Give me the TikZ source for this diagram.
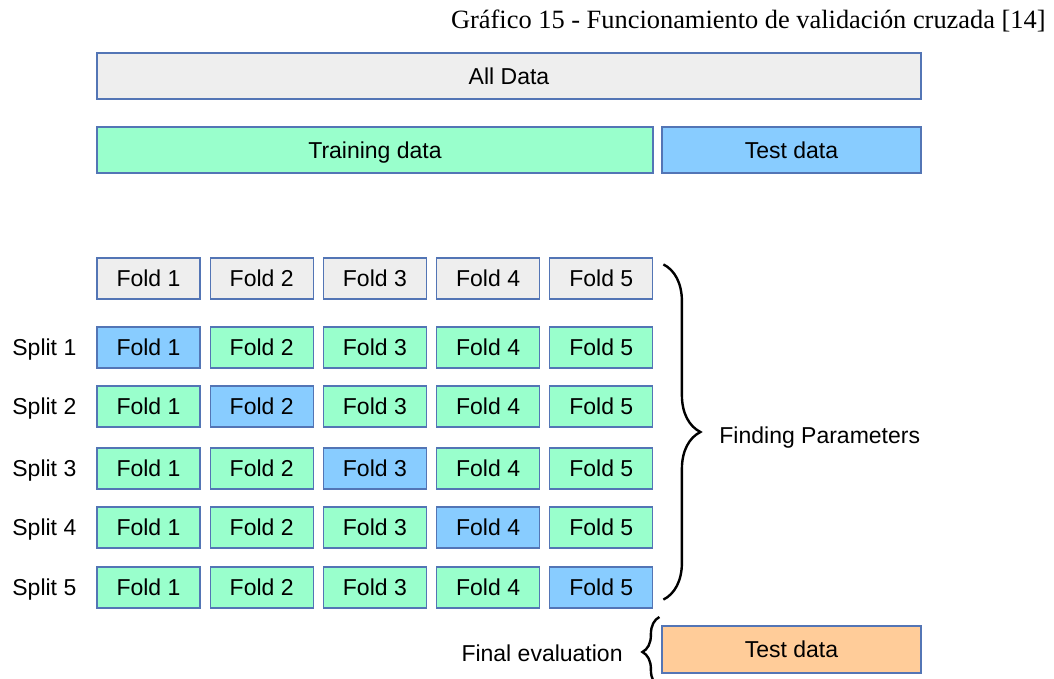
\documentclass[tikz,border=0pt]{standalone}
\usepackage{fontspec}
\setmainfont{Liberation Serif}
\setsansfont{Liberation Sans}
\usetikzlibrary{positioning,decorations.pathreplacing}
\definecolor{CVBorder}{HTML}{5375B5}
\definecolor{CVGrey}{HTML}{EEEEEE}
\definecolor{CVGreen}{HTML}{99FFCC}
\definecolor{CVBlue}{HTML}{88CCFF}
\definecolor{CVOrange}{HTML}{FFCC99}

\begin{document}
\begin{tikzpicture}[x=0.5pt,y=-0.5pt,
 cell/.style={draw=CVBorder,line width=0.6pt,minimum height=23pt,inner sep=0pt,text depth=0pt,font=\sffamily\fontsize{11.5}{13}\selectfont},
 fold/.style={cell,minimum width=51.5pt,minimum height=20.5pt},
 lab/.style={inner sep=0pt,text depth=0pt,font=\sffamily\fontsize{11.5}{13}\selectfont},
 brc/.style={decorate,decoration={brace,amplitude=#1},line width=1.2pt}]
\useasboundingbox (0,0) rectangle (1054,679);
\node[anchor=base east,inner sep=0pt,font=\fontsize{13.2}{16}\selectfont] (title) at (1046,29) {Gráfico 15 - Funcionamiento de validación cruzada [14]};
\node[cell,fill=CVGrey,minimum width=412pt] (all) at (509,76) {All Data};
\node[cell,fill=CVGreen,minimum width=278pt] (train) at (375,150) {Training data};
\node[cell,fill=CVBlue,minimum width=129.5pt] (test) at (791.5,150) {Test data};
% folds and splits
\foreach \i in {1,...,5}
  \node[fold,fill=CVGrey] (h\i) at (148.5+113.2*\i-113.2,278.5) {Fold \i};
\foreach \j/\y in {1/347.5,2/406.5,3/468.5,4/527.5,5/587.5}{
  \node[lab,anchor=west] (sp\j) at (12,\y) {Split \j};
  \foreach \i in {1,...,5}{
    \ifnum\i=\j \def\fc{CVBlue}\else\def\fc{CVGreen}\fi
    \node[fold,fill=\fc] (s\j\i) at (148.5+113.2*\i-113.2,\y) {Fold \i};
  }
}
\draw[brc=18.5pt] ([xshift=5pt,yshift=-3.5pt]h5.north east) -- ([xshift=5pt,yshift=4.5pt]s55.south east);
\node[lab,anchor=west] (fp) at (719,435) {Finding Parameters};
% final evaluation
\node[cell,fill=CVOrange,minimum width=129.5pt,minimum height=23.5pt] (fin) at (791.5,649.5) {Test data};
\draw[brc=8.5pt] ([xshift=-1pt,yshift=-18.75pt]fin.west) -- ([xshift=-1pt,yshift=16.25pt]fin.west);
\node[lab,anchor=east] (fe) at (623,653) {Final evaluation};
\end{tikzpicture}
\end{document}
